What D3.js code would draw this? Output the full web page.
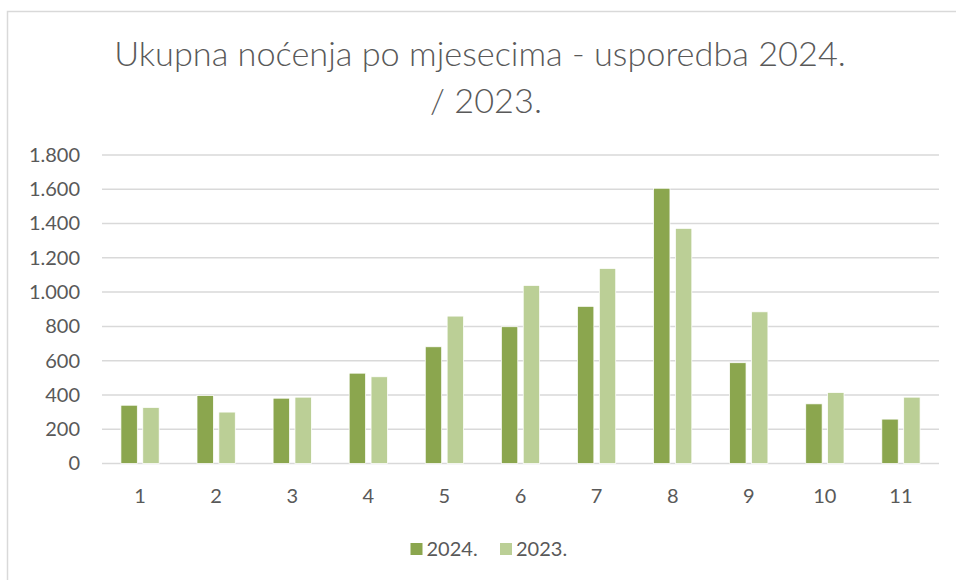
<!DOCTYPE html>
<html>
<head>
<meta charset="utf-8">
<script src="https://cdn.jsdelivr.net/npm/d3@7"></script>
<style>
  html, body { margin: 0; padding: 0; background: #fff; }
  svg { display: block; }
  text { font-family: Lato, "Open Sans", sans-serif; fill: #595959; }
</style>
</head>
<body>
<div id="chart"></div>
<script>
(function () {
    'use strict';

    const months = ["1", "2", "3", "4", "5", "6", "7", "8", "9", "10", "11"];
    const series = ["2024.", "2023."];
    const values2024 = [340, 397, 381, 527, 681, 798, 917, 1606, 588, 348, 259];
    const values2023 = [327, 300, 387, 506, 860, 1039, 1138, 1372, 885, 414, 387];
    const yTicks = [0, 200, 400, 600, 800, 1000, 1200, 1400, 1600, 1800];
    const titleLines = ["Ukupna noćenja po mjesecima - usporedba 2024.", "/ 2023."];
    const colors = ["#8ba64e", "#bbcf96"];

    const width = 956;
    const height = 580;
    const plot = { left: 102, right: 939, top: 155, bottom: 463.5 };

    const svg = d3.select("#chart").append("svg")
        .attr("width", width)
        .attr("height", height);

    // chart frame
    svg.append("rect")
        .attr("x", 7.5)
        .attr("y", 11.5)
        .attr("width", 1000)
        .attr("height", 700)
        .attr("fill", "#fff")
        .attr("stroke", "#d9d9d9")
        .attr("stroke-width", 1.5);

    // title
    const titleX = [480, 486];
    svg.append("text")
        .attr("y", 66)
        .attr("text-anchor", "middle")
        .style("font-size", "34.3px")
        .style("font-weight", 300)
        .selectAll("tspan")
        .data(titleLines)
        .enter()
        .append("tspan")
        .attr("x", (d, i) => titleX[i])
        .attr("dy", (d, i) => i === 0 ? 0 : 47)
        .text(d => d);

    const x = d3.scaleBand()
        .domain(months)
        .range([plot.left, plot.right])
        .paddingInner(0.497)
        .paddingOuter(0.2485);

    const xInner = d3.scaleBand()
        .domain(series)
        .range([0, x.bandwidth()])
        .paddingInner(0.25);

    const y = d3.scaleLinear()
        .domain([0, 1800])
        .range([plot.bottom, plot.top]);

    const fmt = d3.formatLocale({ decimal: ",", thousands: ".", grouping: [3], currency: ["", ""] }).format(",");

    // gridlines
    svg.append("g")
        .selectAll("line")
        .data(yTicks)
        .enter()
        .append("line")
        .attr("x1", plot.left)
        .attr("x2", plot.right)
        .attr("y1", d => y(d))
        .attr("y2", d => y(d))
        .attr("stroke", "#d9d9d9")
        .attr("stroke-width", 1.5);

    // y axis labels
    const yAxis = svg.append("g")
        .attr("transform", `translate(${plot.left - 22},0)`)
        .call(d3.axisLeft(y).tickValues(yTicks).tickFormat(fmt).tickSize(0).tickPadding(0));
    yAxis.select(".domain").remove();
    yAxis.selectAll("text")
        .style("font-size", "20px")
        .attr("fill", "#595959");

    // x axis labels
    const xAxis = svg.append("g")
        .attr("transform", `translate(0,${plot.bottom})`)
        .call(d3.axisBottom(x).tickSize(0).tickPadding(0));
    xAxis.select(".domain").remove();
    xAxis.selectAll("text")
        .attr("dy", null)
        .attr("y", 39.5)
        .style("font-size", "20px")
        .attr("fill", "#595959");

    // bars
    const rows = months.map((m, i) => ({ month: m, vals: [values2024[i], values2023[i]] }));

    const groups = svg.append("g")
        .selectAll("g")
        .data(rows)
        .enter()
        .append("g")
        .attr("transform", d => `translate(${x(d.month)},0)`);

    groups.selectAll("rect")
        .data(d => d.vals.map((v, j) => ({ key: series[j], value: v, color: colors[j] })))
        .enter()
        .append("rect")
        .attr("x", d => xInner(d.key))
        .attr("y", d => y(d.value))
        .attr("width", xInner.bandwidth())
        .attr("height", d => y(0) - y(d.value))
        .attr("fill", d => d.color)
        .attr("stroke", "#ffffff")
        .attr("stroke-width", 0.75);

    // legend
    const legendPos = [410.5, 500];
    const legend = svg.append("g")
        .selectAll("g")
        .data(series)
        .enter()
        .append("g")
        .attr("transform", (d, i) => `translate(${legendPos[i]},543)`);

    legend.append("rect")
        .attr("width", 12)
        .attr("height", 12)
        .attr("fill", (d, i) => colors[i]);

    legend.append("text")
        .attr("x", 16)
        .attr("y", 12.7)
        .style("font-size", "20px")
        .text(d => d);
})();
</script>
</body>
</html>
